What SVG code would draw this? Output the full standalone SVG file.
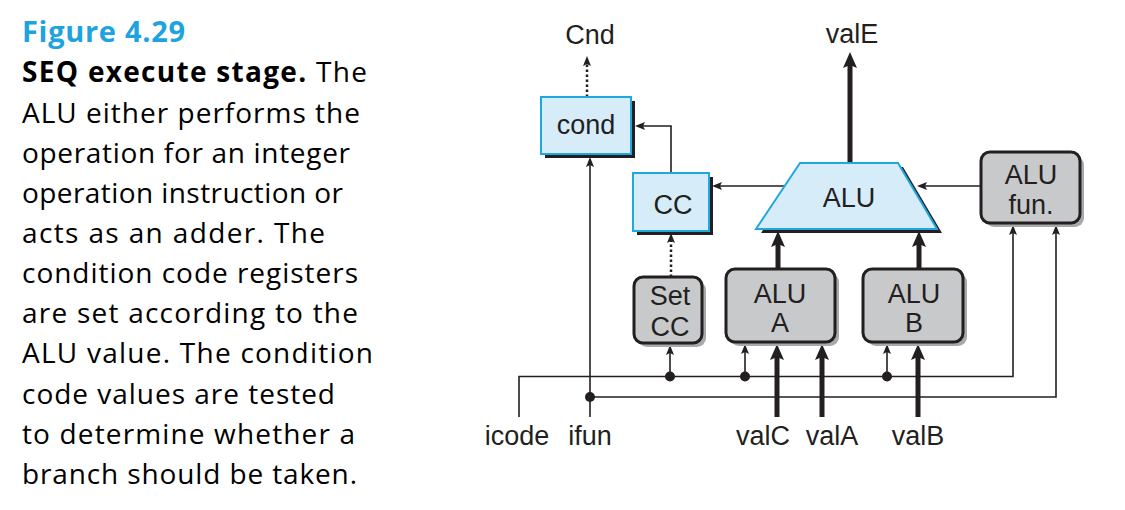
<svg xmlns="http://www.w3.org/2000/svg" width="1125" height="510" viewBox="0 0 1125 510">
<style>
.cap{font-family:"Open Sans","Noto Sans","Liberation Sans",sans-serif;font-size:28px;fill:#000}
.ttl{font-family:"Open Sans","Noto Sans","Liberation Sans",sans-serif;font-size:29px;font-weight:bold;fill:#1fa3de}
.lbl{font-family:"Liberation Sans",Arial,sans-serif;font-size:27px;fill:#231f20;text-anchor:middle}
.blue{fill:#d6ecf9;stroke:#1fa8e0;stroke-width:2}
.gray{fill:#c8c9cb;stroke:#231f20;stroke-width:3}
.gshadow{fill:#a7a9ac}
.thin{fill:none;stroke:#231f20;stroke-width:1.6}
.thick{fill:none;stroke:#231f20;stroke-width:5}
.dot{fill:none;stroke:#231f20;stroke-width:2.5;stroke-dasharray:2.5 2.5}
</style>
<defs>
<marker id="ah" markerUnits="userSpaceOnUse" markerWidth="12" markerHeight="10" refX="3" refY="4" orient="auto">
<path d="M0,0 L10,4 L0,8 L2,4 z" fill="#231f20"/>
</marker>
<marker id="ahk" markerUnits="userSpaceOnUse" markerWidth="18" markerHeight="16" refX="5" refY="7" orient="auto">
<path d="M0,0 L16,7 L0,14 L3,7 z" fill="#231f20"/>
</marker>
</defs>

<g id="caption">
<text class="ttl" x="22" y="42" textLength="163">Figure 4.29</text>
<text class="cap" x="22" y="82" textLength="345"><tspan font-weight="bold">SEQ execute stage.</tspan> The</text>
<text class="cap" x="22" y="122.5" textLength="338">ALU either performs the</text>
<text class="cap" x="22" y="163" textLength="328">operation for an integer</text>
<text class="cap" x="22" y="203" textLength="321">operation instruction or</text>
<text class="cap" x="22" y="243" textLength="303">acts as an adder. The</text>
<text class="cap" x="22" y="283" textLength="336">condition code registers</text>
<text class="cap" x="22" y="323" textLength="336">are set according to the</text>
<text class="cap" x="22" y="363" textLength="351">ALU value. The condition</text>
<text class="cap" x="22" y="403.5" textLength="313">code values are tested</text>
<text class="cap" x="22" y="443.5" textLength="333">to determine whether a</text>
<text class="cap" x="22" y="484" textLength="335">branch should be taken.</text>
</g>

<g id="connectors">
<path class="dot" d="M587,97 V63" marker-end="url(#ah)"/>
<path class="dot" d="M671,277 V240" marker-end="url(#ah)"/>
<path class="thick" d="M850,163 V63" marker-end="url(#ahk)"/>
<path class="thin" d="M671,173 V126 H642" marker-end="url(#ah)"/>
<path class="thin" d="M785,186 H719" marker-end="url(#ah)"/>
<path class="thin" d="M981,186 H924" marker-end="url(#ah)"/>
<path class="thick" d="M778,269 V242" marker-end="url(#ahk)"/>
<path class="thick" d="M919,269 V242" marker-end="url(#ahk)"/>
<path class="thin" d="M519,417 V376.5 H1013 V232" marker-end="url(#ah)"/>
<path class="thin" d="M590,417 V164" marker-end="url(#ah)"/>
<path class="thin" d="M590,397 H1056 V232" marker-end="url(#ah)"/>
<path class="thin" d="M670,376.5 V352" marker-end="url(#ah)"/>
<path class="thin" d="M745,376.5 V351" marker-end="url(#ah)"/>
<path class="thin" d="M887,376.5 V351" marker-end="url(#ah)"/>
<path class="thick" d="M777,417 V355" marker-end="url(#ahk)"/>
<path class="thick" d="M822,417 V355" marker-end="url(#ahk)"/>
<path class="thick" d="M918,417 V355" marker-end="url(#ahk)"/>
<circle cx="670" cy="376.5" r="5" fill="#231f20"/>
<circle cx="745" cy="376.5" r="5" fill="#231f20"/>
<circle cx="887" cy="376.5" r="5" fill="#231f20"/>
<circle cx="590" cy="397" r="5" fill="#231f20"/>
</g>

<g id="cond">
<rect x="545" y="101" width="90" height="57" fill="#231f20"/>
<rect class="blue" x="541" y="97" width="90" height="57"/>
<text class="lbl" x="586" y="134">cond</text>
</g>

<g id="cc">
<rect x="637" y="177" width="76" height="58" fill="#231f20"/>
<rect class="blue" x="633" y="173" width="76" height="58"/>
<text class="lbl" x="673" y="214">CC</text>
</g>

<g id="alu">
<polygon points="805,167 903,167 942,233 761,233" fill="#231f20"/>
<polygon class="blue" points="800,163 898,163 937,229 756,229"/>
<text class="lbl" x="849" y="207">ALU</text>
</g>

<g id="alufun">
<rect class="gshadow" x="985" y="156" width="99" height="71" rx="9"/>
<rect class="gray" x="981" y="152" width="99" height="71" rx="9"/>
<text class="lbl" x="1031" y="184">ALU</text>
<text class="lbl" x="1031" y="214">fun.</text>
</g>

<g id="setcc">
<rect class="gshadow" x="638" y="281" width="68" height="66" rx="9"/>
<rect class="gray" x="634" y="277" width="68" height="66" rx="9"/>
<text class="lbl" x="670" y="305">Set</text>
<text class="lbl" x="670" y="336">CC</text>
</g>

<g id="alua">
<rect class="gshadow" x="730" y="273" width="109" height="73" rx="9"/>
<rect class="gray" x="726" y="269" width="109" height="73" rx="9"/>
<text class="lbl" x="780" y="303">ALU</text>
<text class="lbl" x="780" y="332">A</text>
</g>

<g id="alub">
<rect class="gshadow" x="867" y="273" width="100" height="73" rx="9"/>
<rect class="gray" x="863" y="269" width="100" height="73" rx="9"/>
<text class="lbl" x="914" y="303">ALU</text>
<text class="lbl" x="914" y="332">B</text>
</g>

<g id="labels">
<text class="lbl" x="590" y="44">Cnd</text>
<text class="lbl" x="852" y="43">valE</text>
<text class="lbl" x="517" y="445">icode</text>
<text class="lbl" x="590" y="445">ifun</text>
<text class="lbl" x="763" y="445">valC</text>
<text class="lbl" x="832" y="445">valA</text>
<text class="lbl" x="918" y="445">valB</text>
</g>
</svg>
